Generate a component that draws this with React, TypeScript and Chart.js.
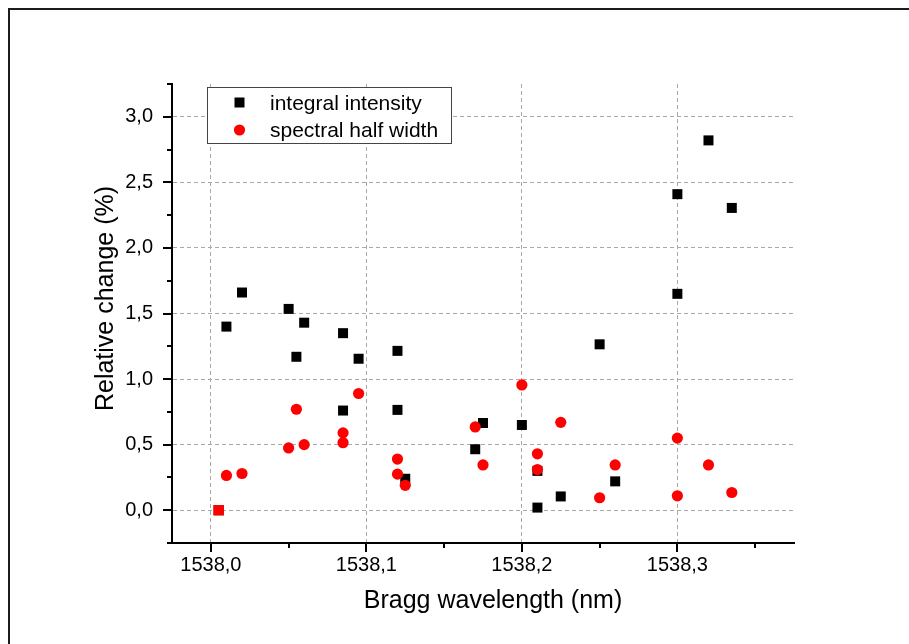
import { useEffect, useRef } from 'react';
import { Chart, registerables } from 'chart.js';

Chart.register(...registerables);

// Bragg wavelength (nm) and relative change (%) of the integral intensity
const intensityX = [
  1538.005, 1538.01, 1538.02, 1538.05, 1538.055, 1538.06, 1538.085, 1538.085,
  1538.095, 1538.12, 1538.12, 1538.125, 1538.17, 1538.175, 1538.2, 1538.21,
  1538.21, 1538.225, 1538.25, 1538.26, 1538.3, 1538.3, 1538.32, 1538.335,
];
const intensityY = [
  0.0, 1.4, 1.66, 1.535, 1.17, 1.43, 1.35, 0.76,
  1.155, 1.215, 0.765, 0.24, 0.465, 0.665, 0.65, 0.3,
  0.02, 0.105, 1.265, 0.22, 2.41, 1.65, 2.82, 2.305,
];

// Bragg wavelength (nm) and relative change (%) of the spectral half width
const halfWidthX = [
  1538.005, 1538.01, 1538.02, 1538.05, 1538.055, 1538.06, 1538.085, 1538.085,
  1538.095, 1538.12, 1538.12, 1538.125, 1538.17, 1538.175, 1538.2, 1538.21,
  1538.21, 1538.225, 1538.25, 1538.26, 1538.3, 1538.3, 1538.32, 1538.335,
];
const halfWidthY = [
  0.0, 0.265, 0.28, 0.475, 0.77, 0.5, 0.59, 0.515,
  0.89, 0.39, 0.275, 0.19, 0.635, 0.345, 0.955, 0.43,
  0.31, 0.67, 0.095, 0.345, 0.55, 0.11, 0.345, 0.135,
];

const seriesNames = ['integral intensity', 'spectral half width'];

// axis ticks: labelled (major) and unlabelled (minor)
const xMajorTicks = [1538.0, 1538.1, 1538.2, 1538.3];
const xMinorTicks = [1538.05, 1538.15, 1538.25, 1538.35];
const yMajorTicks = [0, 0.5, 1.0, 1.5, 2.0, 2.5, 3.0];
const yMinorTicks = [-0.25, 0.25, 0.75, 1.25, 1.75, 2.25, 2.75, 3.25];

const X_MIN = 1537.975;
const X_MAX = 1538.375;
const Y_MIN = -0.25;
const Y_MAX = 3.25;

const FONT = "'Liberation Sans', Arial, Helvetica, sans-serif";
const GRID_COLOR = '#a9a9a9';
const NONE = 'rgba(0,0,0,0)';

const near = (list: number[], v: number) => list.some((t) => Math.abs(t - v) < 1e-6);
const isMajorX = (v: number) => near(xMajorTicks, v);
const isMajorY = (v: number) => near(yMajorTicks, v);
const fmt = (v: number) => v.toFixed(1).replace('.', ',');

const allX = [...xMajorTicks, ...xMinorTicks].sort((a, b) => a - b);
const allY = [...yMajorTicks, ...yMinorTicks].sort((a, b) => a - b);

// Tick marks, axis titles and the boxed legend
const decorations = {
  id: 'decorations',
  afterDraw(chart: any) {
    const { ctx, chartArea, scales } = chart;
    const xs = scales.x;
    const ys = scales.y;
    ctx.save();

    // tick marks (outward, majors longer)
    ctx.strokeStyle = '#000';
    ctx.lineWidth = 2;
    ctx.beginPath();
    for (const t of xs.ticks) {
      const px = Math.round(xs.getPixelForValue(t.value));
      const len = isMajorX(t.value) ? 9 : 5;
      ctx.moveTo(px, chartArea.bottom);
      ctx.lineTo(px, chartArea.bottom + len);
    }
    for (const t of ys.ticks) {
      const py = Math.round(ys.getPixelForValue(t.value));
      const len = isMajorY(t.value) ? 9 : 5;
      ctx.moveTo(chartArea.left, py);
      ctx.lineTo(chartArea.left - len, py);
    }
    ctx.stroke();

    // axis titles
    ctx.fillStyle = '#000';
    ctx.font = `25px ${FONT}`;
    ctx.textAlign = 'center';
    ctx.textBaseline = 'alphabetic';
    ctx.fillText('Bragg wavelength (nm)', 493, 608);
    ctx.save();
    ctx.translate(113, 298.5);
    ctx.rotate(-Math.PI / 2);
    ctx.fillText('Relative change (%)', 0, 0);
    ctx.restore();

    // legend box
    const bx = 207.5;
    const by = 87.5;
    const bw = 244;
    const bh = 56;
    ctx.fillStyle = '#fff';
    ctx.fillRect(bx, by, bw, bh);
    ctx.strokeStyle = '#444';
    ctx.lineWidth = 1;
    ctx.strokeRect(bx, by, bw, bh);

    const ds = chart.data.datasets;
    ctx.fillStyle = ds[0].backgroundColor;
    ctx.fillRect(234.5, 97.5, 10, 10);
    ctx.fillStyle = ds[1].backgroundColor;
    ctx.beginPath();
    ctx.arc(239.5, 130, 5.6, 0, Math.PI * 2);
    ctx.fill();

    ctx.fillStyle = '#000';
    ctx.font = `21px ${FONT}`;
    ctx.textAlign = 'left';
    ctx.fillText(ds[0].label, 270, 110);
    ctx.fillText(ds[1].label, 270, 136.5);

    ctx.restore();
  },
};

export default function App() {
  const ref = useRef<HTMLCanvasElement>(null);

  useEffect(() => {
    if (!ref.current) return;
    const chart = new Chart(ref.current, {
      type: 'scatter',
      data: {
        datasets: [
          {
            label: seriesNames[0],
            data: intensityX.map((x, i) => ({ x, y: intensityY[i] })),
            backgroundColor: '#000000',
            borderWidth: 0,
            pointStyle: 'rect',
            pointRadius: 7.07,
            pointHoverRadius: 7.07,
            order: 1,
          },
          {
            label: seriesNames[1],
            data: halfWidthX.map((x, i) => ({ x, y: halfWidthY[i] })),
            backgroundColor: '#ff0000',
            borderWidth: 0,
            // the shared zero reference point is drawn as a square
            pointStyle: (c: any) => (c.dataIndex === 0 ? 'rect' : 'circle'),
            pointRadius: (c: any) => (c.dataIndex === 0 ? 7.4 : 5.6),
            pointHoverRadius: (c: any) => (c.dataIndex === 0 ? 7.4 : 5.6),
            order: 0,
          },
        ],
      },
      options: {
        animation: false,
        responsive: false,
        maintainAspectRatio: false,
        events: [],
        layout: { padding: { left: 0, top: 84, right: 115, bottom: 0 } },
        plugins: {
          legend: { display: false },
          tooltip: { enabled: false },
        },
        scales: {
          x: {
            type: 'linear',
            min: X_MIN,
            max: X_MAX,
            afterBuildTicks: (s: any) => {
              s.ticks = allX.map((value) => ({ value }));
            },
            afterFit: (s: any) => {
              s.height = 101;
            },
            ticks: {
              autoSkip: false,
              maxRotation: 0,
              minRotation: 0,
              padding: 10,
              color: '#000',
              font: { family: FONT, size: 20 },
              callback: (v: any) => (isMajorX(Number(v)) ? fmt(Number(v)) : ''),
            },
            grid: {
              drawTicks: false,
              lineWidth: 1,
              color: (c: any) => (c.tick && isMajorX(c.tick.value) ? GRID_COLOR : NONE),
            },
            border: { display: true, color: '#000', width: 2, dash: [4, 3] },
          },
          y: {
            type: 'linear',
            min: Y_MIN,
            max: Y_MAX,
            afterBuildTicks: (s: any) => {
              s.ticks = allY.map((value) => ({ value }));
            },
            afterFit: (s: any) => {
              s.width = 172;
            },
            ticks: {
              autoSkip: false,
              padding: 19,
              color: '#000',
              font: { family: FONT, size: 20 },
              callback: (v: any) => (isMajorY(Number(v)) ? fmt(Number(v)) : ''),
            },
            grid: {
              drawTicks: false,
              lineWidth: 1,
              color: (c: any) => (c.tick && isMajorY(c.tick.value) ? GRID_COLOR : NONE),
            },
            border: { display: true, color: '#000', width: 2, dash: [4, 3] },
          },
        },
      },
      plugins: [decorations],
    } as any);
    return () => chart.destroy();
  }, []);

  return (
    <div
      style={{
        position: 'fixed',
        left: 0,
        top: 0,
        width: 909,
        height: 644,
        background: '#fff',
        overflow: 'hidden',
      }}
    >
      <div
        style={{
          position: 'absolute',
          left: 8,
          top: 8,
          right: 0,
          bottom: 0,
          borderTop: '2px solid #1c1c1c',
          borderLeft: '2px solid #1c1c1c',
        }}
      />
      <canvas
        ref={ref}
        width={909}
        height={644}
        style={{ position: 'absolute', left: 0, top: 0, display: 'block' }}
      />
    </div>
  );
}
